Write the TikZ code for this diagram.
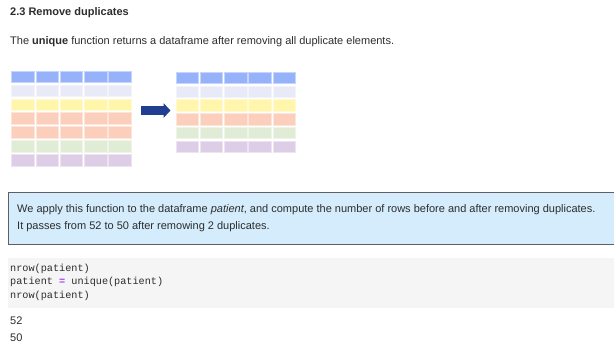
\documentclass[tikz,border=0pt]{standalone}
\usepackage{fontspec}
\setmainfont{Liberation Sans}
\setmonofont{Liberation Mono}
\usetikzlibrary{arrows.meta}
\definecolor{dfBlue}{RGB}{150,178,250}
\definecolor{dfLav}{RGB}{232,234,248}
\definecolor{dfYellow}{RGB}{255,246,172}
\definecolor{dfSalmon}{RGB}{252,207,188}
\definecolor{dfGreen}{RGB}{224,236,214}
\definecolor{dfPurple}{RGB}{221,205,230}
\definecolor{dfArrow}{RGB}{33,62,145}
\definecolor{noteFill}{RGB}{212,236,252}
\definecolor{noteLine}{RGB}{95,95,100}
\definecolor{codeFill}{RGB}{245,245,245}
\definecolor{codeOp}{RGB}{160,60,240}
\definecolor{txtGray}{RGB}{45,45,45}

\begin{document}
\begin{tikzpicture}[x=1pt, y=-1pt,
  cell/.style={fill=#1, draw=#1!55!white, line width=0.7pt},
  txt/.style={anchor=west, inner sep=0pt, text=txtGray, font=\fontsize{11}{13}\selectfont},
  code/.style={anchor=west, inner sep=0pt, text=txtGray, font=\fontsize{10.2}{12}\ttfamily}]
  \clip (0,0) rectangle (614,343);
  \fill[white] (0,0) rectangle (614,343);

  % Heading and intro
  \node[txt, font=\fontsize{11}{13}\selectfont\bfseries] (title) at (10,13) {2.3 Remove duplicates};
  \node[txt] (intro) at (10,42) {The \textbf{unique} function returns a dataframe after removing all duplicate elements.};

  % Left dataframe, with duplicates
  \foreach \c [count=\j from 0] in {dfBlue,dfLav,dfYellow,dfSalmon,dfSalmon,dfGreen,dfPurple}
    \foreach \i in {0,...,4}
      \draw[cell=\c] ({11.7+24.25*\i},{71.2+13.85*\j}) rectangle ++(22.5,11.6);

  % Right dataframe, unique rows
  \foreach \c [count=\j from 0] in {dfBlue,dfLav,dfYellow,dfSalmon,dfGreen,dfPurple}
    \foreach \i in {0,...,4}
      \draw[cell=\c] ({176+24.25*\i},{72.3+13.75*\j}) rectangle ++(22.5,11.4);

  % Arrow
  \coordinate (arrS) at (141,110.5);
  \coordinate (arrE) at (170.5,110.5);
  \draw[dfArrow, line width=8.3pt, -{Triangle[length=7pt,width=14.5pt]}] (arrS) -- (arrE);

  % Note box
  \draw[noteLine, fill=noteFill, line width=0.9pt] (8.5,192.5) rectangle (620,244);
  \node[txt] (note1) at (17,210) {We apply this function to the dataframe \textit{patient}, and compute the number of rows before and after removing duplicates.};
  \node[txt] (note2) at (17,227) {It passes from 52 to 50 after remowing 2 duplicates.};

  % Code cell
  \fill[codeFill] (7.5,258) rectangle (620,307.5);
  \node[code] (c1) at (10,269) {nrow(patient)};
  \node[code] (c2) at (10,282) {patient \textcolor{codeOp}{\bfseries=} unique(patient)};
  \node[code] (c3) at (10,295.5) {nrow(patient)};

  % Output
  \node[txt] (out1) at (10,321) {52};
  \node[txt] (out2) at (10,338) {50};
\end{tikzpicture}
\end{document}
